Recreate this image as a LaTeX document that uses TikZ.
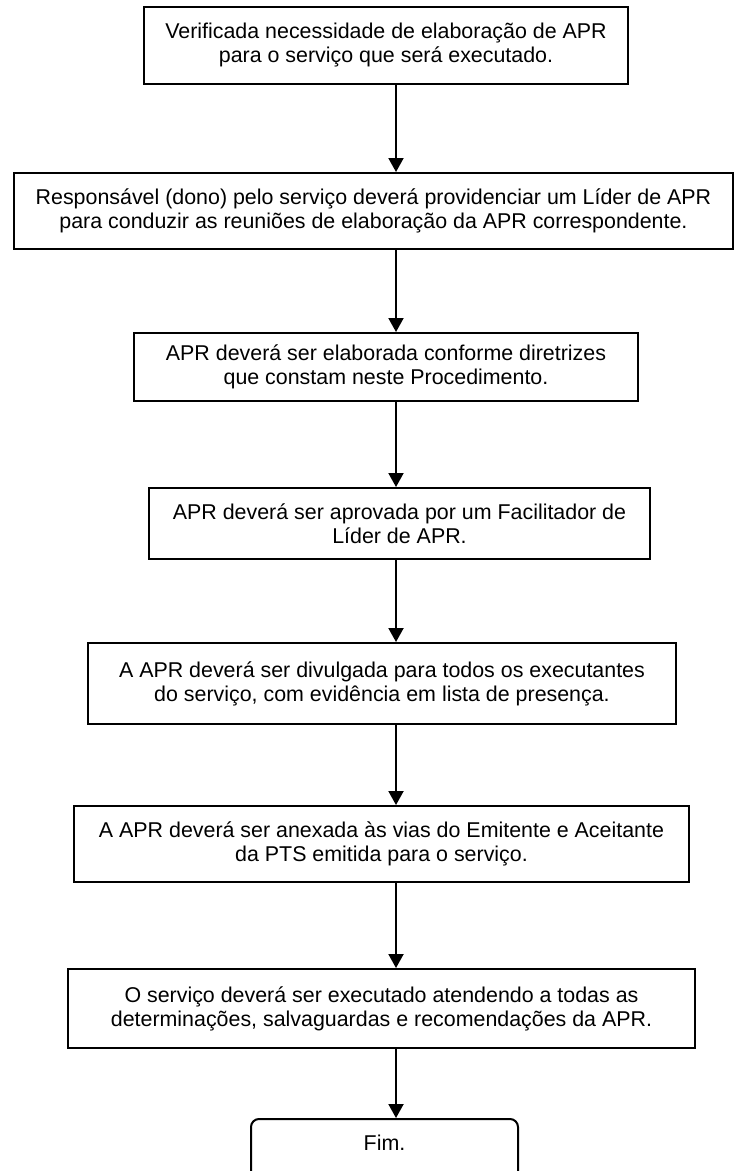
\documentclass[tikz,border=0pt]{standalone}
\usepackage{fontspec}
\setmainfont{Liberation Sans}
\usetikzlibrary{arrows.meta,positioning,calc}

\begin{document}
\begin{tikzpicture}[x=1pt, y=-1pt,
    every node/.style={font=\fontsize{21.4pt}{24pt}\selectfont, align=center},
    passo/.style={draw, line width=2pt, inner sep=0pt},
    fimbox/.style={draw, line width=2pt, rounded corners=8pt, inner xsep=0pt, inner ysep=10pt},
    flecha/.style={line width=2pt, -{Triangle[width=15pt, length=14pt]}}]
    \useasboundingbox (0,0) rectangle (736,1171);
    % coluna das setas
    \coordinate (col) at (396,0);

    % etapas do procedimento
    \node[passo, minimum width=484pt, minimum height=77pt] (p1) at (386,45.5)
        {Verificada necessidade de elaboração de APR\\para o serviço que será executado.};
    \node[passo, minimum width=719pt, minimum height=76pt] (p2) at (373.5,211)
        {Responsável (dono) pelo serviço deverá providenciar um Líder de APR\\para conduzir as reuniões de elaboração da APR correspondente.};
    \node[passo, minimum width=504pt, minimum height=68pt] (p3) at (386,367)
        {APR deverá ser elaborada conforme diretrizes\\que constam neste Procedimento.};
    \node[passo, minimum width=501pt, minimum height=71pt] (p4) at (399.5,523.5)
        {APR deverá ser aprovada por um Facilitador de\\Líder de APR.};
    \node[passo, minimum width=588pt, minimum height=81pt] (p5) at (382,683.5)
        {A APR deverá ser divulgada para todos os executantes\\do serviço, com evidência em lista de presença.};
    \node[passo, minimum width=615pt, minimum height=76pt] (p6) at (381.5,844)
        {A APR deverá ser anexada às vias do Emitente e Aceitante\\da PTS emitida para o serviço.};
    \node[passo, minimum width=627pt, minimum height=79pt] (p7) at (381.5,1008.5)
        {O serviço deverá ser executado atendendo a todas as\\determinações, salvaguardas e recomendações da APR.};

    % fim
    \node[fimbox, minimum width=267pt, text height=21pt, text depth=40pt, anchor=base] (fim) at (384.5,1150) {Fim.};

    % setas
    \draw[flecha] (p1.south -| col) -- (p2.north -| col);
    \draw[flecha] (p2.south -| col) -- (p3.north -| col);
    \draw[flecha] (p3.south -| col) -- (p4.north -| col);
    \draw[flecha] (p4.south -| col) -- (p5.north -| col);
    \draw[flecha] (p5.south -| col) -- (p6.north -| col);
    \draw[flecha] (p6.south -| col) -- (p7.north -| col);
    \draw[flecha] (p7.south -| col) -- (fim.north -| col);
\end{tikzpicture}
\end{document}
